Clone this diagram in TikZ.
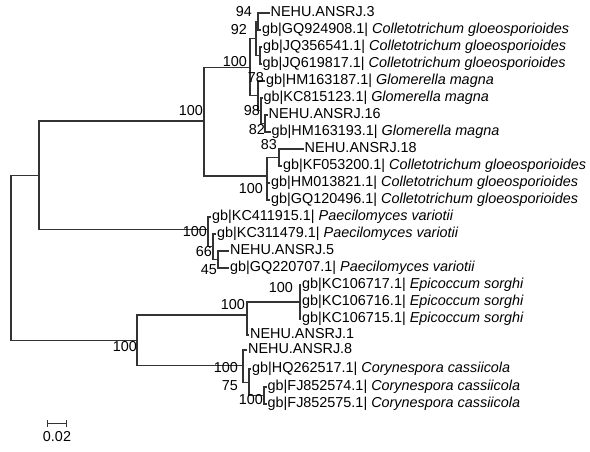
\documentclass[tikz,border=0pt]{standalone}
\usepackage{fontspec}
\setmainfont{Liberation Sans}

\begin{document}
\begin{tikzpicture}[
    x=1pt, y=-1pt,
    branch/.style={draw=black!80, line width=1.1pt, line cap=rect},
    taxon/.style={anchor=west, inner xsep=1.5pt, inner ysep=0pt, text height=10pt, text depth=3pt, font=\fontsize{14.4}{16}\selectfont},
    boot/.style={anchor=east, inner sep=0pt, text height=10pt, text depth=3pt, font=\fontsize{14.4}{16}\selectfont}
]
\useasboundingbox (0,0) rectangle (590,451);

% internal nodes
\coordinate (R) at (11,258);
\coordinate (B) at (39,175.4);
\coordinate (C) at (204,121);
\coordinate (D) at (250,67.2);
\coordinate (G1) at (256,38.5);
\coordinate (G2) at (258,21.5);
\coordinate (G3) at (260,55.5);
\coordinate (H) at (258,95.9);
\coordinate (H2) at (261,110.75);
\coordinate (H3) at (265,123.5);
\coordinate (E) at (267,176);
\coordinate (F) at (279,157.5);
\coordinate (P1) at (208,229.9);
\coordinate (P2) at (213,246.75);
\coordinate (P3) at (218,259.5);
\coordinate (K) at (137,340.4);
\coordinate (L) at (247,315);
\coordinate (L2) at (300,302);
\coordinate (M) at (243,365.9);
\coordinate (M2) at (249,382.75);
\coordinate (M3) at (264,395.5);

% taxa
\node[taxon] (n1) at (269,13) {NEHU.ANSRJ.3};
\node[taxon] (n2) at (260.5,30) {gb|GQ924908.1| \textit{Colletotrichum gloeosporioides}};
\node[taxon] (n3) at (261.5,47) {gb|JQ356541.1| \textit{Colletotrichum gloeosporioides}};
\node[taxon] (n4) at (261,64) {gb|JQ619817.1| \textit{Colletotrichum gloeosporioides}};
\node[taxon] (n5) at (264.5,81) {gb|HM163187.1| \textit{Glomerella magna}};
\node[taxon] (n6) at (262,98) {gb|KC815123.1| \textit{Glomerella magna}};
\node[taxon] (n7) at (267,115) {NEHU.ANSRJ.16};
\node[taxon] (n8) at (270,132) {gb|HM163193.1| \textit{Glomerella magna}};
\node[taxon] (n9) at (303,149) {NEHU.ANSRJ.18};
\node[taxon] (n10) at (281.5,166) {gb|KF053200.1| \textit{Colletotrichum gloeosporioides}};
\node[taxon] (n11) at (269.5,183) {gb|HM013821.1| \textit{Colletotrichum gloeosporioides}};
\node[taxon] (n12) at (269.5,200) {gb|GQ120496.1| \textit{Colletotrichum gloeosporioides}};
\node[taxon] (n13) at (210.5,217) {gb|KC411915.1| \textit{Paecilomyces variotii}};
\node[taxon] (n14) at (215.5,234) {gb|KC311479.1| \textit{Paecilomyces variotii}};
\node[taxon] (n15) at (228.5,251) {NEHU.ANSRJ.5};
\node[taxon] (n16) at (228.5,268) {gb|GQ220707.1| \textit{Paecilomyces variotii}};
\node[taxon] (n17) at (300.5,285) {gb|KC106717.1| \textit{Epicoccum sorghi}};
\node[taxon] (n18) at (300.5,302) {gb|KC106716.1| \textit{Epicoccum sorghi}};
\node[taxon] (n19) at (300.5,319) {gb|KC106715.1| \textit{Epicoccum sorghi}};
\node[taxon] (n20) at (248.5,335) {NEHU.ANSRJ.1};
\node[taxon] (n21) at (246.5,350) {NEHU.ANSRJ.8};
\node[taxon] (n22) at (250.5,369) {gb|HQ262517.1| \textit{Corynespora cassiicola}};
\node[taxon] (n23) at (266,387) {gb|FJ852574.1| \textit{Corynespora cassiicola}};
\node[taxon] (n24) at (266,404) {gb|FJ852575.1| \textit{Corynespora cassiicola}};

% branches
\draw[branch] (R) |- (B) (R) |- (K);
\draw[branch] (B) |- (C) (B) |- (P1);
\draw[branch] (C) |- (D) (C) |- (E);
\draw[branch] (D) |- (G1) (D) |- (H);
\draw[branch] (G1) |- (G2) (G1) |- (G3);
\draw[branch] (G2) |- (n1.west) (G2) |- (n2.west);
\draw[branch] (G3) |- (n3.west) (G3) |- (n4.west);
\draw[branch] (H) |- (n5.west) (H) |- (H2);
\draw[branch] (H2) |- (n6.west) (H2) |- (H3);
\draw[branch] (H3) |- (n7.west) (H3) |- (n8.west);
\draw[branch] (E) |- (F) (E) |- (n11.west) (E) |- (n12.west);
\draw[branch] (F) |- (n9.west) (F) |- (n10.west);
\draw[branch] (P1) |- (n13.west) (P1) |- (P2);
\draw[branch] (P2) |- (n14.west) (P2) |- (P3);
\draw[branch] (P3) |- (n15.west) (P3) |- (n16.west);
\draw[branch] (K) |- (L) (K) |- (M);
\draw[branch] (L) |- (L2) (L) |- (n20.west);
\draw[branch] (L2) |- (n17.west) (L2) |- (n18.west) (L2) |- (n19.west);
\draw[branch] (M) |- (n21.west) (M) |- (M2);
\draw[branch] (M2) |- (n22.west) (M2) |- (M3);
\draw[branch] (M3) |- (n23.west) (M3) |- (n24.west);

% bootstrap values
\node[boot] (bC) at (203,112) {100};
\node[boot] (bD) at (247,63) {100};
\node[boot] (b94) at (252,13) {94};
\node[boot] (b92) at (247,31) {92};
\node[boot] (b78) at (264,79) {78};
\node[boot] (b98) at (260,112) {98};
\node[boot] (b82) at (265,131) {82};
\node[boot] (b83) at (277,146) {83};
\node[boot] (bE) at (263,190) {100};
\node[boot] (bP) at (207,233) {100};
\node[boot] (b66) at (212,253) {66};
\node[boot] (b45) at (217,271) {45};
\node[boot] (bL2) at (293,289) {100};
\node[boot] (bL) at (245,306) {100};
\node[boot] (bK) at (137,348) {100};
\node[boot] (bM) at (238,369) {100};
\node[boot] (b75) at (238,387) {75};
\node[boot] (bM3) at (263,401) {100};

% scale bar
\coordinate (s0) at (47,423);
\coordinate (s1) at (66,423);
\draw[branch, line width=1pt] (s0) -- (s1);
\draw[branch, line width=1pt] ([yshift=3pt]s0) -- ([yshift=-3pt]s0);
\draw[branch, line width=1pt] ([yshift=3pt]s1) -- ([yshift=-3pt]s1);
\node[boot, anchor=north] (scale) at (57,431) {0.02};
\end{tikzpicture}
\end{document}
